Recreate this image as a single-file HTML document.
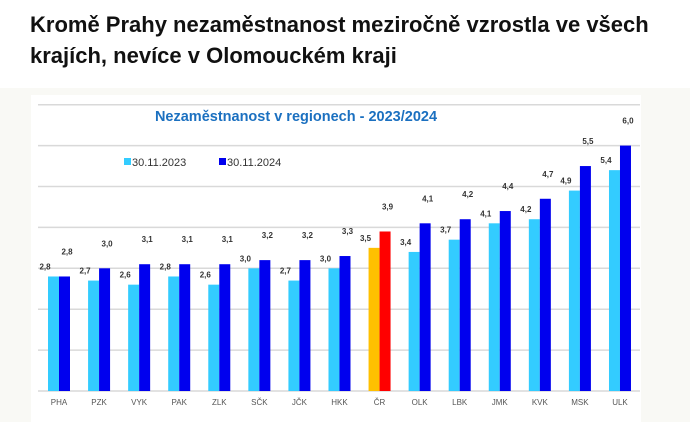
<!DOCTYPE html>
<html><head><meta charset="utf-8"><style>
body{margin:0;width:690px;height:422px;background:#f9f9f5;font-family:"Liberation Sans",sans-serif;overflow:hidden;position:relative}
#head{position:absolute;left:0;top:0;width:690px;height:88px;background:#fff}
h1{position:absolute;left:30px;top:9px;margin:0;font-size:22px;line-height:31px;font-weight:bold;color:#111;white-space:nowrap}
#panel{position:absolute;left:31px;top:95px;width:610px;height:327px;background:#fff}
</style></head><body>
<div id="head"><h1>Kromě Prahy nezaměstnanost meziročně vzrostla ve všech<br>krajích, nevíce v Olomouckém kraji</h1></div>
<div id="panel"></div>
<svg id="chart" width="690" height="422" style="position:absolute;left:0;top:0">
<text x="296" y="121" text-anchor="middle" font-size="14.5" font-weight="bold" fill="#1b70c0">Nezaměstnanost v regionech - 2023/2024</text>
<g>
<rect x="124" y="158" width="7" height="7" fill="#33ccff"/>
<text x="132" y="166" font-size="11" fill="#333">30.11.2023</text>
<rect x="219" y="158" width="7" height="7" fill="#0000ee"/>
<text x="227" y="166" font-size="11" fill="#333">30.11.2024</text>
</g>
<g id="grid"></g><g id="bars"></g><g id="labels"></g>
</svg>
<script>
const categories=["PHA","PZK","VYK","PAK","ZLK","SČK","JČK","HKK","ČR","OLK","LBK","JMK","KVK","MSK","ULK"];
const values2023=[2.8,2.7,2.6,2.8,2.6,3.0,2.7,3.0,3.5,3.4,3.7,4.1,4.2,4.9,5.4];
const values2024=[2.8,3.0,3.1,3.1,3.1,3.2,3.2,3.3,3.9,4.1,4.2,4.4,4.7,5.5,6.0];
const yTicks=[0,1,2,3,4,5,6,7];
const NS="http://www.w3.org/2000/svg";
const y=v=>391-v*40.9;
const x=i=>59+i*40.07;
const grid=document.getElementById('grid'),bars=document.getElementById('bars'),labels=document.getElementById('labels');
function mk(tag,attrs,parent){const e=document.createElementNS(NS,tag);for(const k in attrs)e.setAttribute(k,attrs[k]);parent.appendChild(e);return e;}
yTicks.forEach(t=>{
  const l=mk('line',{x1:38,x2:640,y1:y(t),y2:y(t),stroke:'#d9d9d9','stroke-width':1.5},grid);
  
  
});
const fmt=v=>v.toFixed(1).replace('.',',');
categories.forEach((c,i)=>{
  const cx=x(i);const cr=c==="ČR";
  const b1=mk('rect',{x:cx-11,y:y(values2023[i]),width:11,height:y(0)-y(values2023[i]),fill:cr?'#ffc000':'#33ccff'},bars);
  
  
  const b2=mk('rect',{x:cx,y:y(values2024[i]),width:11,height:y(0)-y(values2024[i]),fill:cr?'#ff0000':'#0000ee'},bars);
  
  
  const t1=mk('text',{x:cx-14,y:y(values2023[i])-7,'text-anchor':'middle','font-size':8,'font-weight':'bold',fill:'#333'},labels);
  t1.textContent=fmt(values2023[i]);
  
  
  const t2=mk('text',{x:cx+8,y:y(values2024[i])-22,'text-anchor':'middle','font-size':8,'font-weight':'bold',fill:'#333'},labels);
  t2.textContent=fmt(values2024[i]);
  
  
  const tx=mk('text',{x:cx,y:405,'text-anchor':'middle','font-size':8,fill:'#555'},labels);
  tx.textContent=c;
  
  
});
</script>
</body></html>
